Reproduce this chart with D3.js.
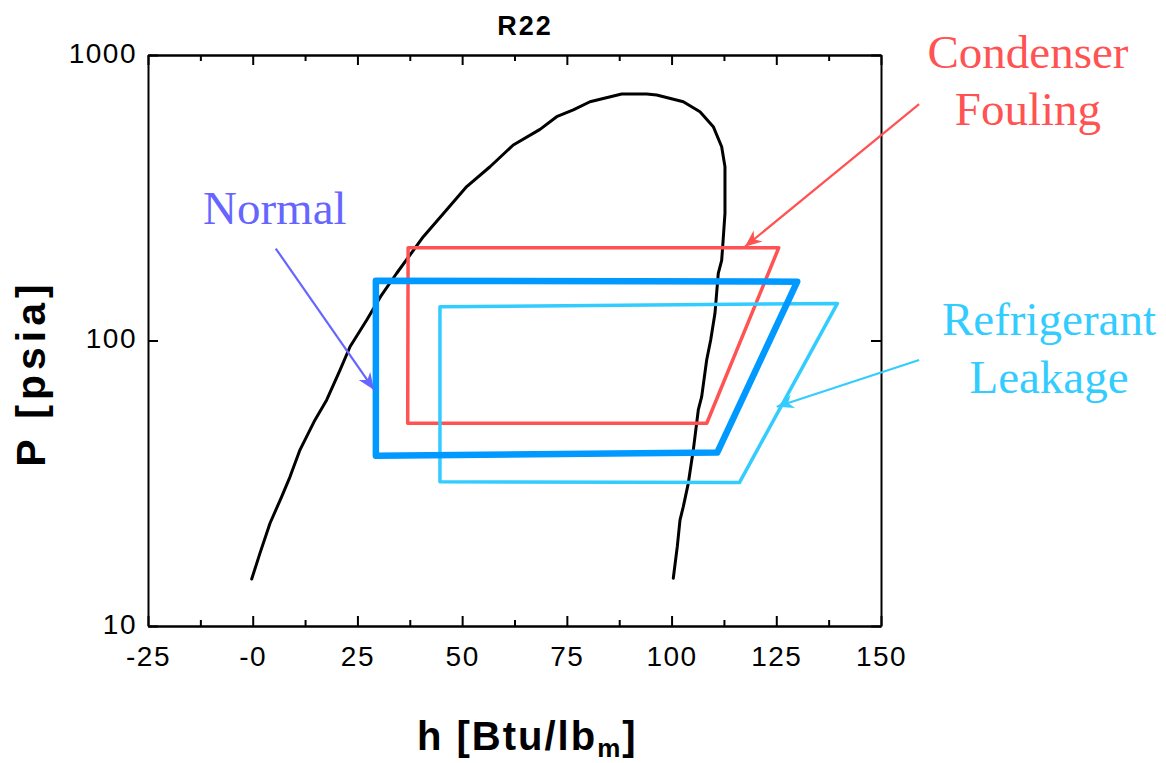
<!DOCTYPE html>
<html>
<head>
<meta charset="utf-8">
<script src="https://cdn.jsdelivr.net/npm/d3@7"></script>
<style>
  html, body { margin: 0; padding: 0; background: #ffffff; }
  svg { display: block; }
</style>
</head>
<body>
<svg id="chart" width="1166" height="763"></svg>
<script>
// ---------------- data ----------------
const chartTitle = "R22";
const xTicks = [-25, 0, 25, 50, 75, 100, 125, 150];
const xMinorTicks = [-12.5, 12.5, 37.5, 62.5, 87.5, 112.5, 137.5];
const yTicks = [10, 100, 1000];

// saturation dome (h in Btu/lbm, P in psia)
const domeH = [-0.24, 1.74, 4.13, 6.92, 8.90, 11.29, 14.87, 17.66, 20.84, 23.23, 27.22, 30.51, 34.37,
  40.73, 46.31, 51.09, 56.65, 62.21, 68.59, 72.57, 76.54, 80.52, 88.09, 94.06, 96.45, 102.80,
  106.78, 109.96, 111.96, 112.75, 112.75, 112.20, 111.96, 111.15, 110.36, 109.34, 108.38,
  107.19, 106.38, 105.19, 103.99, 102.80, 102.01, 101.37, 100.41];
const domeP = [14.6, 18.0, 22.9, 28.4, 33.3, 41.4, 52.7, 61.9, 78.8, 95.1, 118, 142.4, 172,
  231, 287, 346, 406, 484, 549, 608, 642, 686, 730, 730, 724, 686,
  633, 561, 477, 406, 279, 213, 191, 172, 124.5, 100.4, 85.5,
  63.6, 57.1, 41.4, 31.6, 26.2, 23.5, 19.0, 14.7];

// refrigeration cycles (corner points)
const normalH = [29.4, 130.0, 110.9, 29.4];
const normalP = [162, 160.7, 40.5, 39.5];
const foulingH = [37.1, 125.6, 108.4, 37.0];
const foulingP = [211.4, 211.4, 51.3, 51.3];
const leakageH = [44.7, 139.6, 116.2, 44.7];
const leakageP = [131.3, 134.9, 31.8, 32.0];

// annotation texts
const normalLabel = ["Normal"];
const foulingLabel = ["Condenser", "Fouling"];
const leakageLabel = ["Refrigerant", "Leakage"];
// annotation arrows [fromH, fromP, toH, toP]
const normalArrow = [5.5, 210, 29.0, 67.1];
const foulingArrow = [159.1, 673, 117.5, 213];
const leakageArrow = [159.1, 85.5, 125.1, 58.6];

// ---------------- drawing ----------------
const svg = d3.select("#chart");
const plotL = 148, plotR = 881, plotT = 55, plotB = 626;

const x = d3.scaleLinear().domain([-25, 150]).range([plotL, plotR]);
const y = d3.scaleLog().domain([10, 1000]).range([plotB, plotT]);

const sansFont = "'Liberation Sans', Arial, Helvetica, sans-serif";
const serifFont = "'Liberation Serif', 'Times New Roman', serif";

const colNormal = "#0099ff";
const colFouling = "#ff5252";
const colLeak = "#33ccff";
const colNormalText = "#6666ff";

// arrow markers
const defs = svg.append("defs");
function marker(id, color) {
  defs.append("marker")
    .attr("id", id)
    .attr("markerUnits", "userSpaceOnUse")
    .attr("viewBox", "-18 -8 20 16")
    .attr("refX", 0).attr("refY", 0)
    .attr("markerWidth", 20).attr("markerHeight", 16)
    .attr("orient", "auto")
    .append("path")
    .attr("d", "M0,0 L-17,-7 L-12,0 L-17,7 Z")
    .attr("fill", color);
}
marker("arrNormal", colNormalText);
marker("arrFouling", colFouling);
marker("arrLeak", colLeak);

// axes
function styleAxis(g) {
  g.selectAll(".domain").attr("stroke", "#000").attr("stroke-width", 2);
  g.selectAll(".tick line").attr("stroke", "#000").attr("stroke-width", 2);
  g.selectAll(".tick text")
    .attr("fill", "#000")
    .style("font-family", sansFont)
    .style("font-size", "28px")
    .style("letter-spacing", "1.5px");
}

const fmtX = d => (d === 0 ? "-0" : String(d));

svg.append("g")
  .attr("transform", `translate(0,${plotB})`)
  .call(d3.axisBottom(x).tickValues(xTicks).tickFormat(fmtX).tickSizeInner(-10).tickSizeOuter(0).tickPadding(20))
  .call(styleAxis);
svg.append("g")
  .attr("transform", `translate(0,${plotB})`)
  .call(d3.axisBottom(x).tickValues(xMinorTicks).tickFormat("").tickSizeInner(-6).tickSizeOuter(0))
  .call(styleAxis);
svg.append("g")
  .attr("transform", `translate(0,${plotT})`)
  .call(d3.axisTop(x).tickValues(xTicks).tickFormat("").tickSizeInner(-10).tickSizeOuter(0))
  .call(styleAxis);
svg.append("g")
  .attr("transform", `translate(0,${plotT})`)
  .call(d3.axisTop(x).tickValues(xMinorTicks).tickFormat("").tickSizeInner(-6).tickSizeOuter(0))
  .call(styleAxis);
const gy = svg.append("g")
  .attr("transform", `translate(${plotL},0)`)
  .call(d3.axisLeft(y).tickValues(yTicks).tickFormat(d3.format("d")).tickSizeInner(-10).tickSizeOuter(0).tickPadding(11))
  .call(styleAxis);
gy.selectAll(".tick text").attr("dy", "0.26em");
svg.append("g")
  .attr("transform", `translate(${plotR},0)`)
  .call(d3.axisRight(y).tickValues(yTicks).tickFormat("").tickSizeInner(-10).tickSizeOuter(0))
  .call(styleAxis);

// dome
const line = d3.line().x(d => x(d[0])).y(d => y(d[1]));
svg.append("path")
  .datum(d3.zip(domeH, domeP))
  .attr("d", line)
  .attr("fill", "none")
  .attr("stroke", "#000")
  .attr("stroke-width", 3)
  .attr("stroke-linejoin", "round")
  .attr("stroke-linecap", "round");

// cycles
function cycle(hs, ps, color, w) {
  svg.append("path")
    .datum(d3.zip(hs, ps))
    .attr("d", d => line(d) + "Z")
    .attr("fill", "none")
    .attr("stroke", color)
    .attr("stroke-width", w)
    .attr("stroke-linejoin", "round");
}
cycle(foulingH, foulingP, colFouling, 3.5);
cycle(leakageH, leakageP, colLeak, 3.5);
cycle(normalH, normalP, colNormal, 6.5);

// arrows
function arrow(a, color, id) {
  svg.append("line")
    .attr("x1", x(a[0])).attr("y1", y(a[1]))
    .attr("x2", x(a[2])).attr("y2", y(a[3]))
    .attr("stroke", color)
    .attr("stroke-width", 2.2)
    .attr("marker-end", `url(#${id})`);
}
arrow(normalArrow, colNormalText, "arrNormal");
arrow(foulingArrow, colFouling, "arrFouling");
arrow(leakageArrow, colLeak, "arrLeak");

// annotation labels
function label(lines, cx, baselines, color, anchor) {
  lines.forEach((t, i) => {
    svg.append("text")
      .attr("x", cx).attr("y", baselines[i])
      .attr("text-anchor", anchor)
      .attr("fill", color)
      .style("font-family", serifFont)
      .style("font-size", "47px")
      .text(t);
  });
}
label(normalLabel, 203, [224], colNormalText, "start");
label(foulingLabel, 1028, [68, 125], colFouling, "middle");
label(leakageLabel, 1049, [335, 393], colLeak, "middle");

// title
svg.append("text")
  .attr("x", 525).attr("y", 35)
  .attr("text-anchor", "middle")
  .style("font-family", sansFont)
  .style("font-weight", "bold")
  .style("font-size", "27px")
  .style("letter-spacing", "2px")
  .text(chartTitle);

// x axis title
const xt = svg.append("text")
  .attr("x", 417).attr("y", 750)
  .style("font-family", sansFont)
  .style("font-weight", "bold")
  .style("font-size", "40px")
  .style("letter-spacing", "2px");
xt.append("tspan").text("h [Btu/lb");
xt.append("tspan").attr("dy", 7).style("font-size", "26px").text("m");
xt.append("tspan").attr("dy", -7).text("]");

// y axis title
svg.append("text")
  .attr("transform", "translate(45,373) rotate(-90)")
  .attr("text-anchor", "middle")
  .style("font-family", sansFont)
  .style("font-weight", "bold")
  .style("font-size", "41px")
  .style("letter-spacing", "5px")
  .text("P [psia]");
</script>
</body>
</html>
